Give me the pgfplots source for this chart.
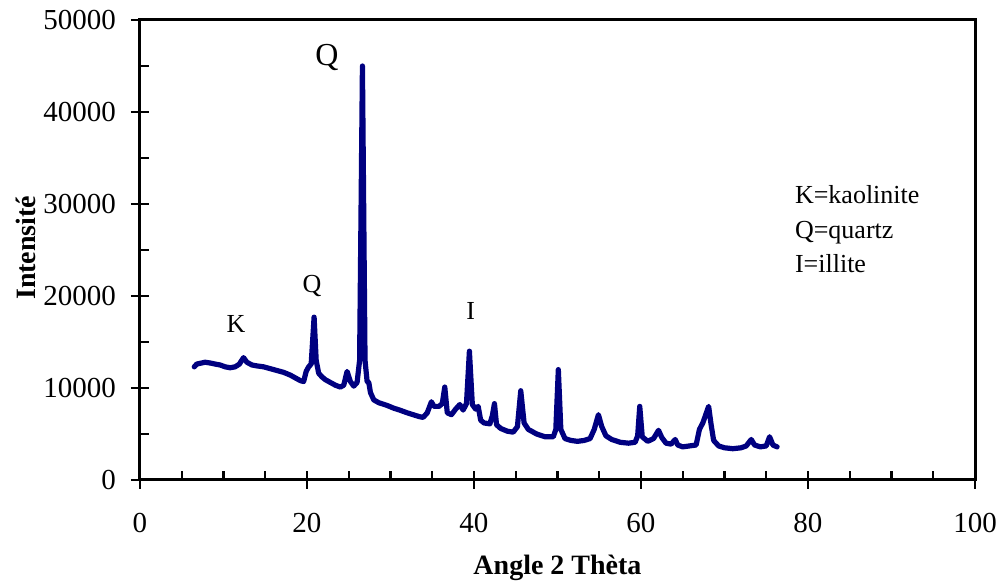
\documentclass[border=0pt]{standalone}
\usepackage{fontspec}
\setmainfont{Liberation Serif}
\usepackage{pgfplots}
\pgfplotsset{compat=1.18}
\definecolor{navyline}{RGB}{0,0,128}
\begin{document}
\begin{tikzpicture}
\begin{axis}[
  scale only axis, width=417.5pt, height=230pt,
  xmin=0, xmax=100, ymin=0, ymax=50000,
  xtick={0,20,...,100}, ytick={0,10000,...,50000},
  minor xtick={5,10,...,95}, minor ytick={5000,15000,...,45000},
  xtick pos=bottom, ytick pos=left,
  scaled ticks=false,
  /pgf/number format/assume math mode=true,
  yticklabel={\pgfmathprintnumber[fixed,1000 sep={}]{\tick}},
  axis line style={line width=1.5pt},
  tick align=center,
  major tick length=9pt, minor tick length=4.5pt,
  major tick style={line width=1.2pt, black},
  minor x tick style={line width=1.2pt, black, yshift=2.25pt},
  minor y tick style={line width=1.2pt, black, xshift=2.25pt},
  ticklabel style={font=\fontsize{14.5}{16}\selectfont},
  xticklabel style={anchor=base, yshift=-22pt},
  yticklabel style={anchor=east, xshift=-4pt},
  xlabel={\textbf{Angle 2 Thèta}},
  ylabel={\textbf{Intensité}},
  label style={font=\fontsize{14}{16}\selectfont},
  xlabel style={at={(axis description cs:0.5,-0.19)}, anchor=center},
  ylabel style={at={(axis description cs:-0.1365,0.505)}, anchor=center},
  clip=false,
]
\addplot[color=navyline, line width=2.6pt, line join=round, line cap=round] coordinates {
(6.5,12300) (6.8,12600) (7.3,12700) (7.8,12800) (8.5,12700) (9.0,12600) (9.6,12500)
(10.2,12300) (10.8,12200) (11.4,12300) (11.9,12600) (12.4,13300) (12.8,12800)
(13.4,12500) (14.0,12400) (14.8,12300) (15.6,12100) (16.4,11900) (17.2,11700)
(18.0,11400) (18.6,11100) (19.2,10800) (19.6,10700) (19.9,11800) (20.2,12300)
(20.5,12600) (20.85,17700) (21.1,13000) (21.4,11600) (21.8,11200) (22.2,10900)
(22.8,10600) (23.4,10300) (24.0,10100) (24.4,10300) (24.8,11800) (25.2,10700)
(25.6,10200) (26.0,10600) (26.3,13000) (26.64,45000) (26.95,13000) (27.2,10700)
(27.4,10600) (27.6,9500) (28.0,8700) (28.6,8400) (29.6,8100) (30.4,7800)
(31.1,7600) (32.0,7300) (32.7,7100) (33.4,6900) (33.9,6800) (34.4,7300)
(34.9,8500) (35.2,8000) (35.8,8000) (36.2,8300) (36.5,10100) (36.8,7300)
(37.3,7100) (37.8,7700) (38.3,8200) (38.7,7600) (39.1,8300) (39.45,14000)
(39.8,8200) (40.2,7700) (40.5,8000) (40.8,6500) (41.2,6200) (41.9,6100)
(42.2,7000) (42.45,8300) (42.7,6000) (43.2,5600) (44.0,5300) (44.7,5200)
(45.2,5800) (45.6,9700) (46.0,6200) (46.5,5500) (47.5,5000) (48.5,4700)
(49.5,4700) (49.8,5500) (50.1,12000) (50.4,5500) (50.9,4500) (51.6,4300)
(52.4,4200) (53.2,4300) (53.9,4500) (54.4,5500) (54.9,7100) (55.3,5800)
(55.8,4800) (56.5,4400) (57.5,4100) (58.5,4000) (59.3,4100) (59.6,4800)
(59.85,8000) (60.15,4700) (60.8,4200) (61.5,4500) (62.1,5400) (62.5,4600)
(63.0,4000) (63.6,3900) (64.1,4400) (64.4,3800) (65.0,3600) (65.8,3700)
(66.6,3800) (67.0,5500) (67.4,6200) (67.6,6700) (68.1,8000) (68.4,6000)
(68.7,4300) (69.3,3700) (70.0,3500) (71.0,3400) (72.0,3500) (72.6,3700)
(73.2,4400) (73.6,3800) (74.3,3600) (75.0,3700) (75.4,4700) (75.8,3800)
(76.3,3600)
};
\node[font=\fontsize{13}{15}\selectfont, anchor=base] at (axis cs:11.5,16000) {K};
\node[font=\fontsize{13}{15}\selectfont, anchor=base] at (axis cs:20.6,20400) {Q};
\node[font=\fontsize{13}{15}\selectfont, anchor=base] at (axis cs:39.6,17400) {I};
\node[font=\fontsize{16}{18}\selectfont, anchor=base] at (axis cs:22.4,45000) {Q};
\node[font=\fontsize{13}{15}\selectfont, anchor=base west] at (axis cs:77.6,30000) {K=kaolinite};
\node[font=\fontsize{13}{15}\selectfont, anchor=base west] at (axis cs:77.6,26200) {Q=quartz};
\node[font=\fontsize{13}{15}\selectfont, anchor=base west] at (axis cs:77.6,22500) {I=illite};
\coordinate (bl) at (rel axis cs:0,0);
\coordinate (tr) at (rel axis cs:1,1);
\end{axis}
\pgfresetboundingbox
\path[use as bounding box] ([xshift=-70pt,yshift=-52.5pt]bl) rectangle ([xshift=11pt,yshift=10pt]tr);
\end{tikzpicture}
\end{document}
